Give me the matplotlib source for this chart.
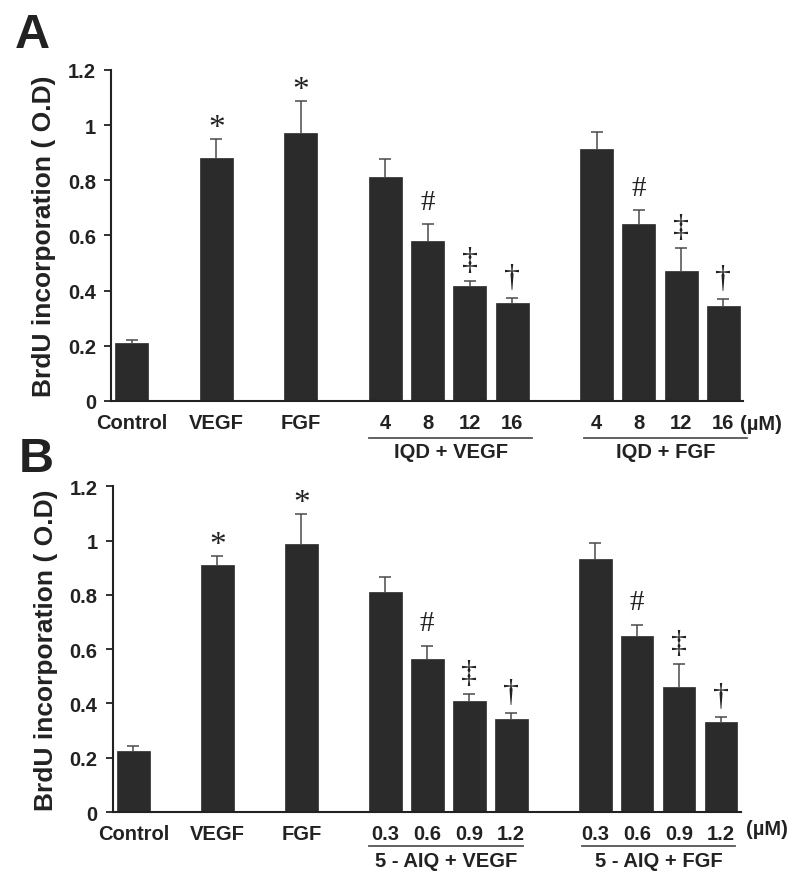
import matplotlib
matplotlib.use("Agg")
import matplotlib.pyplot as plt
import matplotlib.transforms as mtransforms
from matplotlib.ticker import FuncFormatter
import numpy as np

# ---------------- data ----------------
positions = [0, 2, 4, 6, 7, 8, 9, 11, 12, 13, 14]
labels_A = ["Control", "VEGF", "FGF", "4", "8", "12", "16", "4", "8", "12", "16"]
labels_B = ["Control", "VEGF", "FGF", "0.3", "0.6", "0.9", "1.2", "0.3", "0.6", "0.9", "1.2"]

values_A = [0.209, 0.881, 0.971, 0.813, 0.579, 0.416, 0.355, 0.915, 0.642, 0.470, 0.344]
errors_A = [0.013, 0.068, 0.117, 0.064, 0.062, 0.019, 0.018, 0.059, 0.051, 0.084, 0.025]
marks_A = ["", "*", "*", "", "#", "\u2021", "\u2020", "", "#", "\u2021", "\u2020"]

values_B = [0.225, 0.909, 0.986, 0.812, 0.564, 0.410, 0.344, 0.932, 0.647, 0.461, 0.332]
errors_B = [0.017, 0.035, 0.111, 0.054, 0.049, 0.025, 0.021, 0.061, 0.044, 0.085, 0.017]
marks_B = ["", "*", "*", "", "#", "\u2021", "\u2020", "", "#", "\u2021", "\u2020"]

groups_A = ["IQD + VEGF", "IQD + FGF"]
groups_B = ["5 - AIQ + VEGF", "5 - AIQ + FGF"]
yticks = [0, 0.2, 0.4, 0.6, 0.8, 1.0, 1.2]
ylabel = "BrdU incorporation ( O.D)"
unit = "(\u00b5M)"

# ---------------- style ----------------
SANS = ["Liberation Sans", "DejaVu Sans"]
SERIF = ["Liberation Serif", "DejaVu Serif"]
BAR = "#2b2b2b"
ERR = "#4a4a4a"
FS = 14.5

fig = plt.figure(figsize=(8.0, 8.87), dpi=100)
axA = fig.add_axes([0.139, 0.5468, 0.790, 0.3732])
axB = fig.add_axes([0.141, 0.0834, 0.785, 0.3671])


def draw(ax, values, errors, marks, labels, groups, group_lines, unit_xy):
    ax.bar(positions, values, width=0.78, color=BAR, edgecolor=BAR, linewidth=0.5, zorder=2)
    lower = np.zeros(len(errors))
    _, caps, bars = ax.errorbar(positions, values, yerr=[lower, errors], fmt="none",
                                ecolor=ERR, elinewidth=1.1, capsize=4.5, capthick=1.1, zorder=3)
    caps[0].set_visible(False)
    for x, v, e, m in zip(positions, values, errors, marks):
        if not m:
            continue
        if m == "*":
            ax.annotate(m, (x, v + e), xytext=(0, 8), textcoords="offset points",
                        ha="center", va="center", fontsize=24, family=SERIF, color="#222222")
        elif m == "#":
            ax.annotate(m, (x, v + e), xytext=(0, 16), textcoords="offset points",
                        ha="center", va="center", fontsize=21, family=SERIF, color="#222222")
        else:
            ax.annotate(m, (x, v + e), xytext=(0, 15), textcoords="offset points",
                        ha="center", va="center", fontsize=23, family=SERIF, color="#222222")

    ax.set_xlim(-0.49, 14.47)
    ax.set_ylim(0, 1.2)
    ax.set_yticks(yticks)
    ax.yaxis.set_major_formatter(FuncFormatter(lambda v, p: "%g" % v))
    ax.set_xticks(positions)
    ax.set_xticklabels(labels)
    for sp in ["top", "right"]:
        ax.spines[sp].set_visible(False)
    for sp in ["left", "bottom"]:
        ax.spines[sp].set_linewidth(1.5)
        ax.spines[sp].set_color("#222222")
    ax.tick_params(axis="y", direction="out", length=5, width=1.3, pad=6,
                   labelsize=FS, colors="#222222")
    ax.tick_params(axis="x", length=0, pad=8.5, labelsize=FS, colors="#222222")
    for t in ax.get_xticklabels() + ax.get_yticklabels():
        t.set_fontweight("bold")
        t.set_family(SANS)
    ax.set_ylabel(ylabel, fontsize=19, fontweight="bold", family=SANS, color="#222222")
    ax.yaxis.set_label_coords(-0.087, 0.5)

    trans = mtransforms.blended_transform_factory(ax.transData, ax.transAxes)
    for name, (x0, x1, ly, ty) in zip(groups, group_lines):
        ax.plot([x0, x1], [ly, ly], color="#555555", lw=1.3, transform=trans, clip_on=False)
        ax.text((x0 + x1) / 2, ty, name, transform=trans, ha="center", va="center",
                fontsize=FS, fontweight="bold", family=SANS, color="#222222")
    ax.text(unit_xy[0], unit_xy[1], unit, transform=trans, ha="center", va="center",
            fontsize=FS, fontweight="bold", family=SANS, color="#222222")


draw(axA, values_A, errors_A, marks_A, labels_A, groups_A,
     [(5.62, 9.48, -0.112, -0.154), (10.71, 14.57, -0.112, -0.154)], (14.88, -0.069))
draw(axB, values_B, errors_B, marks_B, labels_B, groups_B,
     [(5.61, 9.28, -0.104, -0.150), (10.69, 14.34, -0.104, -0.150)], (15.1, -0.052))

fig.text(15 / 800, 1 - 48 / 887, "A", fontsize=35, fontweight="bold", family=SANS,
         color="#222222", ha="left", va="baseline")
fig.text(19 / 800, 1 - 472 / 887, "B", fontsize=35, fontweight="bold", family=SANS,
         color="#222222", ha="left", va="baseline")

fig.savefig("out.png", dpi=100)
